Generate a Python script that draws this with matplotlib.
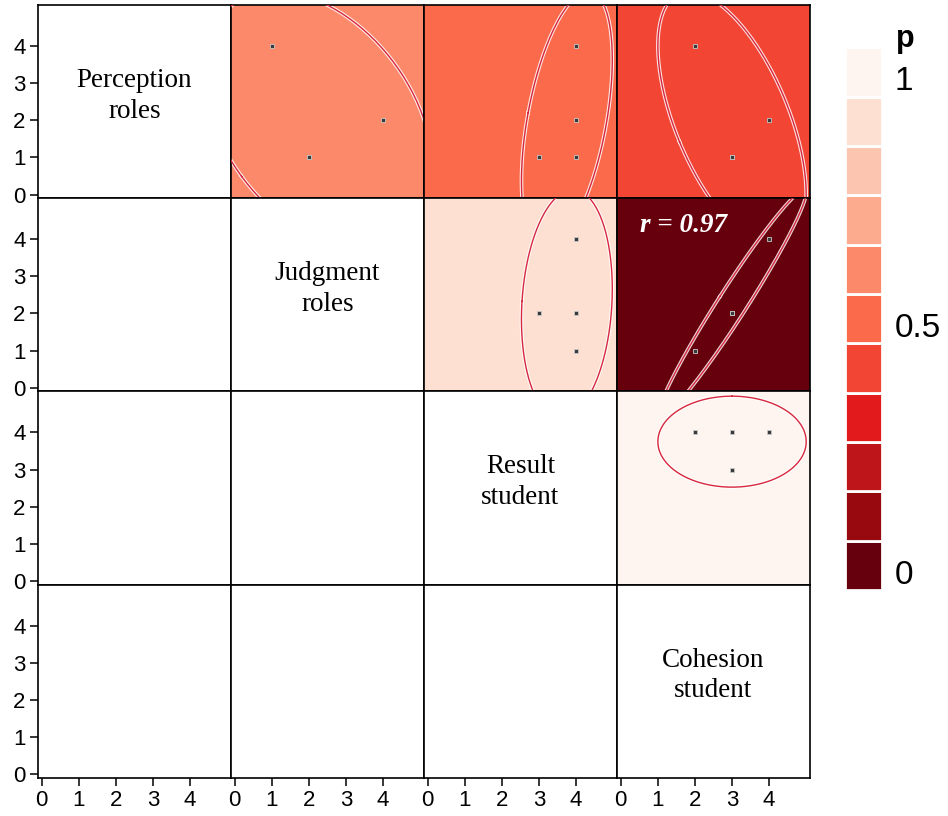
import matplotlib.pyplot as plt
import numpy as np

# four observations per variable
names = ["Perception\nroles", "Judgment\nroles", "Result\nstudent", "Cohesion\nstudent"]
perception = [1, 4, 2, 1]
judgment = [2, 1, 4, 2]
result = [3, 4, 4, 4]
cohesion = [3, 2, 4, 3]

# p-value colour bins, p = 0.0 ... 1.0
bin_colors = ["#67000d", "#98090f", "#bd1519", "#e31a1c", "#f24533", "#fb6a4a",
              "#fc8a6a", "#fcab8f", "#fcc5b0", "#fee0d2", "#fff5f0"]
cbar_labels = {0: "0", 5: "0.5", 10: "1"}
ticks = [0, 1, 2, 3, 4]

data = [np.array(v, dtype=float) for v in (perception, judgment, result, cohesion)]
n = len(data)
nobs = len(data[0])
lim = (-0.1, 5.1)


def pearson(x, y):
    r = np.corrcoef(x, y)[0, 1]
    df = nobs - 2
    t = r * np.sqrt(df) / np.sqrt(max(1 - r ** 2, 1e-12))
    # two-sided p for t distribution with df = 2
    p = 1 - abs(t) / np.sqrt(t ** 2 + 2)
    return r, p


def ellipse(x, y, level=0.95, npts=200):
    cov = np.cov(x, y)
    vals, vecs = np.linalg.eigh(cov)
    scale = np.sqrt(-2 * np.log(1 - level))
    th = np.linspace(0, 2 * np.pi, npts)
    circ = np.vstack([np.cos(th), np.sin(th)])
    pts = vecs @ (np.sqrt(vals)[:, None] * circ) * scale
    return pts[0] + x.mean(), pts[1] + y.mean()


plt.rcParams["font.family"] = ["Liberation Sans", "DejaVu Sans"]
fig = plt.figure(figsize=(9.48, 8.16), dpi=100)
gs = fig.add_gridspec(n, n, left=0.0401, right=0.8544, top=0.9939, bottom=0.0466,
                      wspace=0, hspace=0)

for i in range(n):
    for j in range(n):
        ax = fig.add_subplot(gs[i, j])
        ax.set_xlim(lim)
        ax.set_ylim(lim)
        for s in ax.spines.values():
            s.set_linewidth(1.2)
        ax.tick_params(length=6, width=1.1, labelsize=16, pad=3)
        ax.set_xticks(ticks)
        ax.set_yticks(ticks)
        if j != 0:
            ax.tick_params(axis="y", left=False, labelleft=False)
        if i != n - 1:
            ax.tick_params(axis="x", bottom=False, labelbottom=False)

        if i == j:
            ax.text(0.5, 0.53, names[i], transform=ax.transAxes, ha="center", va="center",
                    fontsize=19.5, family="Liberation Serif", linespacing=1.3)
        elif j > i:
            x, y = data[j], data[i]
            r, p = pearson(x, y)
            ax.set_facecolor(bin_colors[int(round(p * 10))])
            ex, ey = ellipse(x, y)
            ax.plot(ex, ey, color="white", lw=2.6, alpha=0.85, zorder=2)
            ax.plot(ex, ey, color="#d7263d", lw=1.0, zorder=3)
            ax.plot(x, y, "s", ms=3.4, color="#3a3a3a", mec="#c8c8c8", mew=0.6, zorder=4)
            if p < 0.05:
                ax.text(0.12, 0.86, f"r = {r:.2f}", transform=ax.transAxes, color="white",
                        fontsize=19.5, family="Liberation Serif", fontweight="bold",
                        fontstyle="italic", ha="left", va="center")

# colour key for p
cax = fig.add_axes([0.8914, 0.277, 0.039, 0.665])
nb = len(bin_colors)
cax.bar([0] * nb, [1] * nb, bottom=np.arange(nb), width=1, color=bin_colors,
        edgecolor="white", linewidth=2)
cax.set_xlim(-0.5, 0.5)
cax.set_ylim(0, nb)
cax.axis("off")
for k, lab in cbar_labels.items():
    cax.text(1.35, k + 0.3, lab, transform=cax.get_yaxis_transform(), ha="left",
             va="center", fontsize=24)
cax.text(1.62, 1.015, "p", transform=cax.transAxes, ha="center", va="center",
         fontsize=22, fontweight="bold")

fig.savefig("out.png", dpi=100)
